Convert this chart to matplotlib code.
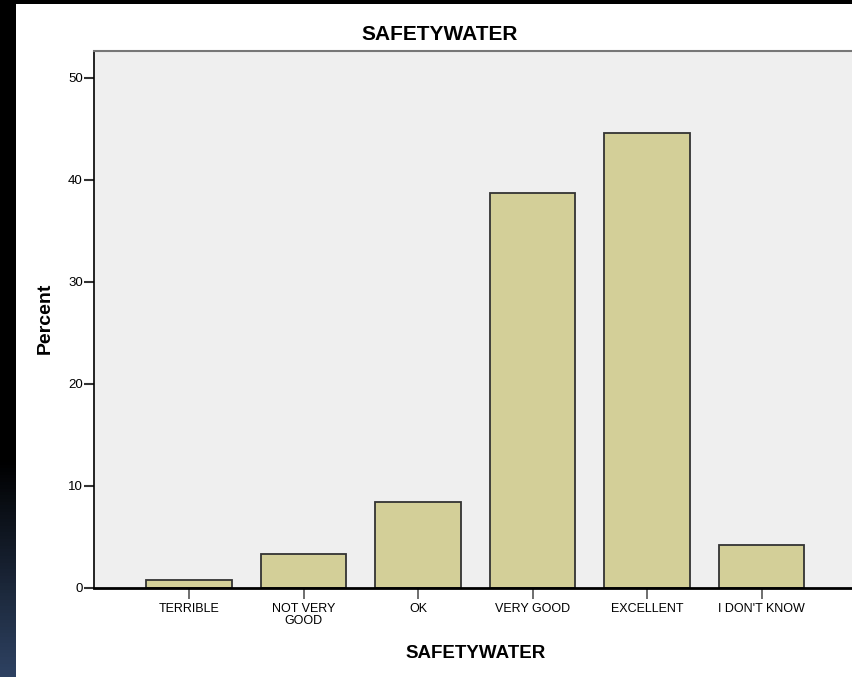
import numpy as np
import matplotlib.pyplot as plt

categories = ['TERRIBLE', 'NOT VERY\nGOOD', 'OK', 'VERY GOOD', 'EXCELLENT', "I DON'T KNOW"]
percent = [0.8, 3.3, 8.4, 38.7, 44.6, 4.2]
yticks = [0, 10, 20, 30, 40, 50]

plt.rcParams['font.family'] = ['Liberation Sans', 'DejaVu Sans']

W, H = 852, 677
fig = plt.figure(figsize=(W / 100, H / 100), dpi=100, facecolor='black')

# white slide area
bg = fig.add_axes([16 / W, 0, 1 - 16 / W, 1 - 4 / H], zorder=-5)
bg.set_facecolor('white')
bg.set_xticks([]); bg.set_yticks([])
for s in bg.spines.values():
    s.set_visible(False)

# left strip with dark gradient to blue at the bottom
strip = fig.add_axes([0, 0, 16 / W, 1 - 4 / H], zorder=-5)
t = np.linspace(0, 1, 200)
g = np.clip((t - 0.68) / 0.32, 0, 1)[:, None]
top = np.array([0, 0, 0]) / 255
bot = np.array([46, 66, 98]) / 255
grad = top + g[..., None] * (bot - top)
strip.imshow(grad.repeat(2, axis=1), aspect='auto', extent=(0, 1, 1, 0))
strip.axis('off')

ax = fig.add_axes([94 / W, (H - 588) / H, 758 / W, 537 / H])
ax.set_facecolor('#efefef')
x = np.arange(len(categories))
ax.bar(x, percent, width=0.75, color='#d3cf98', edgecolor='#333333', linewidth=1.3, zorder=2)

ax.set_xlim(-0.83, 5.79)
ax.set_ylim(0, 52.6)
ax.set_yticks(yticks)
ax.set_xticks(x)
ax.set_xticklabels(categories, fontsize=9, linespacing=1.0)
ax.tick_params(axis='y', labelsize=9.5, length=7, width=1.5, color='#333333', pad=1)
ax.tick_params(axis='x', length=8, width=1.2, color='#555555', pad=3)

for s in ['left', 'bottom']:
    ax.spines[s].set_color('black')
ax.spines['left'].set_linewidth(1.2)
ax.spines['bottom'].set_linewidth(2)
ax.spines['top'].set_color('#777777')
ax.spines['top'].set_linewidth(1.5)
ax.spines['right'].set_visible(False)

fig.text(440 / W, 1 - 34 / H, 'SAFETYWATER', ha='center', va='center', fontsize=15, fontweight='bold')
fig.text(476 / W, 1 - 653 / H, 'SAFETYWATER', ha='center', va='center', fontsize=13.5, fontweight='bold')
fig.text(45 / W, 1 - 318 / H, 'Percent', ha='center', va='center', rotation=90, fontsize=14, fontweight='bold')

fig.savefig('out.png', dpi=100, facecolor='black')
